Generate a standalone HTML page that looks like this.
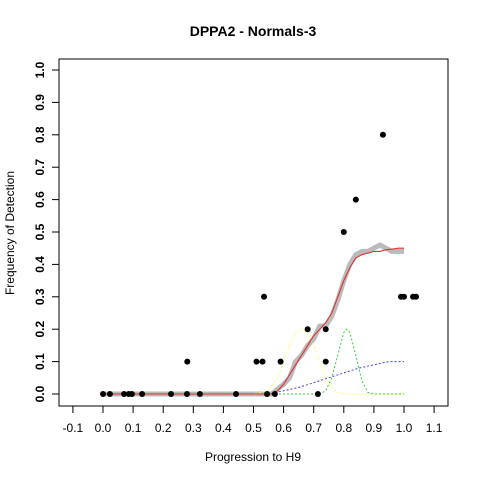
<!DOCTYPE html>
<html><head><meta charset="utf-8"><style>body{margin:0;background:#fff}svg{display:block;font-family:"Liberation Sans",sans-serif}</style></head>
<body>
<svg id="c" width="480" height="480">
<rect width="480" height="480" fill="#fff"/>
<text x="253" y="36" text-anchor="middle" font-weight="bold" font-size="14">DPPA2 - Normals-3</text>
<rect x="59" y="59" width="389" height="347" fill="none" stroke="#000"/>
<text x="253" y="461" text-anchor="middle" font-size="12">Progression to H9</text>
<text transform="translate(14,233) rotate(-90)" text-anchor="middle" font-size="12">Frequency of Detection</text>
<g id="axes"></g><g id="marks"></g>
</svg>
<script>
const xTicks=[-0.1,0,0.1,0.2,0.3,0.4,0.5,0.6,0.7,0.8,0.9,1.0,1.1];
const yTicks=[0,0.1,0.2,0.3,0.4,0.5,0.6,0.7,0.8,0.9,1.0];
const ptX=[0,0.023,0.07,0.086,0.096,0.13,0.226,0.279,0.322,0.442,0.545,0.571,0.714,0.28,0.51,0.53,0.59,0.74,0.68,0.74,0.535,0.99,1.0,1.03,1.04,0.80,0.84,0.93];
const ptY=[0,0,0,0,0,0,0,0,0,0,0,0,0,0.1,0.1,0.1,0.1,0.1,0.2,0.2,0.3,0.3,0.3,0.3,0.3,0.5,0.6,0.8];
const fitX=[0,0.56,0.58,0.60,0.62,0.64,0.66,0.68,0.70,0.72,0.74,0.76,0.78,0.80,0.82,0.84,0.86,0.88,0.90,0.92,0.94,0.96,0.98,1.0];
const redY=[0,0,0.01,0.03,0.06,0.09,0.12,0.15,0.18,0.20,0.22,0.25,0.30,0.35,0.39,0.42,0.43,0.435,0.44,0.44,0.445,0.447,0.45,0.45];
const grayY=[0,0,0.015,0.03,0.05,0.10,0.12,0.15,0.17,0.21,0.21,0.24,0.29,0.35,0.40,0.43,0.44,0.44,0.45,0.46,0.45,0.44,0.44,0.44];
const yelX=[0,0.5,0.55,0.58,0.60,0.62,0.64,0.66,0.68,0.70,0.72,0.74,0.76,0.78,0.80,1.0];
const yelY=[0,0,0.01,0.05,0.10,0.15,0.19,0.20,0.19,0.15,0.10,0.05,0.02,0.005,0,0];
const grnX=[0,0.72,0.74,0.76,0.78,0.80,0.81,0.82,0.84,0.86,0.88,0.90,1.0];
const grnY=[0,0,0.01,0.05,0.12,0.19,0.20,0.19,0.12,0.04,0.005,0,0];
const bluX=[0,0.55,0.60,0.65,0.70,0.75,0.80,0.85,0.90,0.95,1.0];
const bluY=[0,0,0.01,0.02,0.035,0.05,0.065,0.08,0.09,0.10,0.10];
const NS='http://www.w3.org/2000/svg';
const sx=v=>103+301*v, sy=v=>394-324*v;
const ax=document.getElementById('axes'), mk=document.getElementById('marks');
function el(t,a,p){const e=document.createElementNS(NS,t);for(const k in a)e.setAttribute(k,a[k]);p.appendChild(e);return e;}
xTicks.forEach(t=>{
 const l=el('line',{x1:sx(t),x2:sx(t),y1:406,y2:413,stroke:'#000'},ax);
 
 
 const tx=el('text',{x:sx(t),y:432,'text-anchor':'middle','font-size':12},ax);tx.textContent=t.toFixed(1);
 
 
});
yTicks.forEach(t=>{
 const l=el('line',{x1:52,x2:59,y1:sy(t),y2:sy(t),stroke:'#000'},ax);
 
 
 const tx=el('text',{transform:`translate(44,${sy(t)}) rotate(-90)`,'text-anchor':'middle','font-size':12,'font-weight':'bold'},ax);tx.textContent=t.toFixed(1);
 
 
});
function line(xs,ys,st,name){
 const d=xs.map((x,i)=>(i?'L':'M')+sx(x).toFixed(1)+' '+sy(ys[i]).toFixed(1)).join('');
 const p=el('path',Object.assign({d:d,fill:'none'},st),mk);
 
 
}
line(fitX,grayY,{stroke:'#bbb','stroke-width':5,'stroke-linejoin':'round'},'observed-line');
line(yelX,yelY,{stroke:'#ffff66','stroke-width':1,'stroke-dasharray':'2 2'},'yellow-component');
line(grnX,grnY,{stroke:'#33cc33','stroke-width':1,'stroke-dasharray':'2 2'},'green-component');
line(bluX,bluY,{stroke:'#4444dd','stroke-width':1,'stroke-dasharray':'2 2'},'blue-component');
line(fitX,redY,{stroke:'#dd3333','stroke-width':1.1},'fit-line');
ptX.forEach((x,i)=>{
 const c=el('circle',{cx:sx(x),cy:sy(ptY[i]),r:3,fill:'#000'},mk);
 
 
});
</script>
</body></html>
